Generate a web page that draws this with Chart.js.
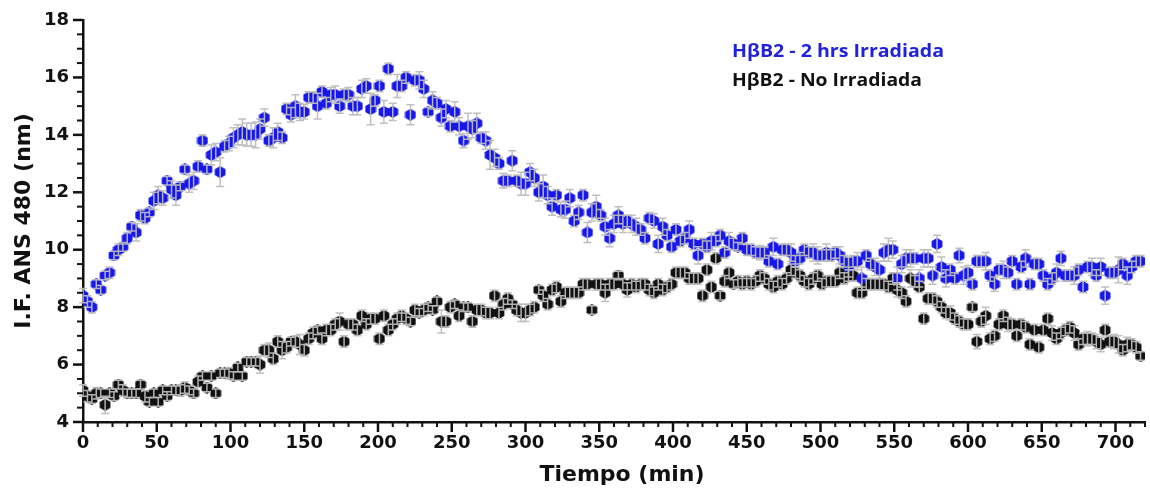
<!DOCTYPE html>
<html>
<head>
<meta charset="utf-8">
<script src="https://cdn.jsdelivr.net/npm/chart.js@4.4.1/dist/chart.umd.min.js"></script>
<style>
  body { margin: 0; background: #fff; }
  #wrap { width: 1150px; height: 493px; }
</style>
</head>
<body>
<div id="wrap"><canvas id="grafico"></canvas></div>
<script>
// tiempo de lectura (min)
const tiempo = [
  0,3,6,9,12,15,18,21,24,27,30,33,36,39,42,45,48,51,54,57,
  60,63,66,69,72,75,78,81,84,87,90,93,96,99,102,105,108,111,114,117,
  120,123,126,129,132,135,138,141,144,147,150,153,156,159,162,165,168,171,174,177,
  180,183,186,189,192,195,198,201,204,207,210,213,216,219,222,225,228,231,234,237,
  240,243,246,249,252,255,258,261,264,267,270,273,276,279,282,285,288,291,294,297,
  300,303,306,309,312,315,318,321,324,327,330,333,336,339,342,345,348,351,354,357,
  360,363,366,369,372,375,378,381,384,387,390,393,396,399,402,405,408,411,414,417,
  420,423,426,429,432,435,438,441,444,447,450,453,456,459,462,465,468,471,474,477,
  480,483,486,489,492,495,498,501,504,507,510,513,516,519,522,525,528,531,534,537,
  540,543,546,549,552,555,558,561,564,567,570,573,576,579,582,585,588,591,594,597,
  600,603,606,609,612,615,618,621,624,627,630,633,636,639,642,645,648,651,654,657,
  660,663,666,669,672,675,678,681,684,687,690,693,696,699,702,705,708,711,714,717
];

// HbB2 - 2 hrs Irradiada
const irradiada = [
  8.4,8.2,8.0,8.8,8.6,9.1,9.2,9.8,10.0,10.1,10.4,10.8,10.6,11.2,11.1,11.3,11.7,11.9,11.8,12.4,
  12.1,11.9,12.2,12.8,12.3,12.4,12.9,13.8,12.8,13.3,13.4,12.7,13.6,13.7,13.9,14.0,14.1,14.0,14.0,14.0,
  14.2,14.6,13.8,13.9,14.1,13.9,14.9,14.7,15.0,14.8,14.8,15.3,15.3,15.0,15.5,15.1,15.4,15.4,15.0,15.4,
  15.4,15.0,15.0,15.6,15.7,14.9,15.2,15.7,14.8,16.3,14.8,15.7,15.7,16.0,14.7,15.9,15.9,15.6,14.8,15.2,
  15.1,14.6,14.9,14.3,14.8,14.3,13.8,14.3,14.2,14.4,13.9,13.8,13.3,13.2,13.0,12.4,12.4,13.1,12.4,12.3,
  12.3,12.7,12.5,12.0,12.2,11.9,11.5,11.9,11.4,11.4,11.8,11.0,11.3,11.9,10.6,11.3,11.5,11.2,10.8,10.4,
  10.9,11.2,10.9,11.0,10.9,10.8,10.7,10.4,11.1,11.0,10.2,10.8,10.5,10.1,10.7,10.3,10.4,10.7,10.2,9.8,
  10.2,10.1,10.3,10.3,10.5,9.9,10.3,10.2,10.1,10.4,10.0,10.0,9.9,9.9,9.9,9.6,10.1,9.5,10.0,10.0,
  9.9,9.6,9.7,10.0,9.9,9.9,9.8,9.8,9.9,9.8,9.9,9.8,9.6,9.4,9.6,9.6,9.0,9.8,9.5,9.4,
  9.3,9.9,10.0,10.0,9.0,9.5,9.7,9.7,9.7,9.0,9.7,9.7,9.1,10.2,9.4,9.0,9.3,9.0,9.8,9.1,
  9.2,8.8,9.6,9.6,9.6,9.1,8.8,9.3,9.3,9.2,9.6,8.8,9.4,9.7,8.8,9.5,9.5,9.1,8.8,9.0,
  9.2,9.7,9.1,9.1,9.1,9.3,8.7,9.4,9.4,9.1,9.4,8.4,9.2,9.2,9.3,9.5,9.1,9.4,9.6,9.6
];
const irradiadaErr = [
  0.25,0.2,0.2,0.15,0.15,0.15,0.2,0.15,0.2,0.15,0.2,0.15,0.3,0.2,0.2,0.15,0.3,0.3,0.25,0.15,
  0.3,0.35,0.15,0.15,0.3,0.3,0.2,0.2,0.15,0.35,0.3,0.5,0.2,0.25,0.35,0.35,0.45,0.4,0.4,0.45,
  0.35,0.3,0.2,0.35,0.3,0.2,0.2,0.25,0.4,0.3,0.25,0.2,0.2,0.45,0.2,0.2,0.25,0.3,0.25,0.2,
  0.25,0.3,0.3,0.3,0.25,0.55,0.2,0.2,0.4,0.2,0.3,0.4,0.2,0.2,0.35,0.2,0.3,0.3,0.15,0.3,
  0.2,0.3,0.3,0.2,0.35,0.3,0.25,0.45,0.3,0.35,0.2,0.3,0.5,0.3,0.2,0.25,0.2,0.35,0.2,0.4,
  0.4,0.3,0.3,0.3,0.4,0.3,0.3,0.2,0.25,0.3,0.3,0.2,0.25,0.2,0.35,0.3,0.4,0.2,0.3,0.3,
  0.3,0.3,0.3,0.2,0.3,0.3,0.2,0.2,0.2,0.25,0.3,0.3,0.2,0.2,0.2,0.2,0.2,0.3,0.2,0.3,
  0.2,0.2,0.3,0.2,0.2,0.2,0.3,0.2,0.15,0.2,0.2,0.2,0.2,0.25,0.2,0.2,0.3,0.2,0.2,0.2,
  0.3,0.2,0.2,0.2,0.2,0.3,0.3,0.2,0.3,0.2,0.2,0.3,0.2,0.35,0.2,0.3,0.4,0.2,0.2,0.3,
  0.3,0.3,0.4,0.3,0.4,0.3,0.3,0.3,0.2,0.3,0.3,0.3,0.3,0.3,0.35,0.3,0.2,0.2,0.25,0.3,
  0.25,0.2,0.2,0.2,0.3,0.2,0.25,0.2,0.3,0.2,0.2,0.2,0.2,0.3,0.2,0.2,0.2,0.2,0.2,0.2,
  0.3,0.25,0.2,0.2,0.3,0.2,0.2,0.2,0.3,0.2,0.3,0.3,0.2,0.2,0.45,0.2,0.3,0.2,0.2,0.2
];

// HbB2 - No Irradiada
const noIrradiada = [
  5.1,4.9,4.8,5.0,5.0,4.6,5.0,4.9,5.3,5.1,5.0,5.0,5.0,5.3,4.9,4.7,5.0,4.7,5.1,4.9,
  5.1,5.1,5.1,5.2,5.1,5.0,5.4,5.6,5.2,5.6,5.0,5.7,5.7,5.7,5.6,5.9,5.6,6.1,6.1,6.1,
  6.0,6.5,6.5,6.2,6.8,6.5,6.6,6.8,6.8,6.7,6.5,6.9,7.1,7.2,6.9,7.2,7.2,7.4,7.5,6.8,
  7.4,7.4,7.2,7.7,7.4,7.6,7.6,6.9,7.7,7.2,7.4,7.6,7.7,7.6,7.5,7.9,7.8,7.9,8.0,7.9,
  8.2,7.5,7.5,8.0,8.1,7.7,8.0,8.0,7.5,7.9,7.9,7.8,7.8,8.4,7.8,8.1,8.3,8.1,7.9,7.8,
  7.8,7.9,8.0,8.6,8.4,8.1,8.6,8.7,8.2,8.5,8.5,8.5,8.5,8.8,8.8,7.9,8.8,8.8,8.5,8.8,
  8.8,9.1,8.8,8.6,8.8,8.7,8.8,8.8,8.6,8.5,8.8,8.6,8.7,8.8,9.2,9.2,9.2,9.0,9.0,9.0,
  8.4,9.3,8.7,9.7,8.4,8.9,9.2,8.8,8.9,8.8,8.9,8.8,8.9,9.1,9.0,8.8,8.7,8.9,8.8,9.0,
  9.3,9.2,9.1,8.9,8.8,9.0,9.1,8.8,8.9,8.9,8.9,9.2,9.0,9.1,9.1,8.5,8.5,8.8,8.8,8.8,
  8.8,8.8,8.7,9.0,8.6,8.5,8.2,9.0,8.9,8.7,7.6,8.3,8.3,8.2,8.0,7.8,7.8,7.6,7.5,7.4,
  7.4,8.0,6.8,7.5,7.7,6.9,7.0,7.4,7.7,7.4,7.4,7.0,7.4,7.3,6.7,7.2,6.6,7.2,7.6,7.1,
  6.9,7.1,7.2,7.3,7.1,6.7,6.9,6.9,6.9,6.8,6.7,7.2,6.8,6.8,6.7,6.5,6.7,6.7,6.6,6.3
];
const noIrradiadaErr = [
  0.2,0.2,0.15,0.2,0.15,0.3,0.15,0.15,0.15,0.2,0.15,0.15,0.15,0.15,0.2,0.15,0.15,0.15,0.15,0.15,
  0.15,0.15,0.2,0.2,0.15,0.15,0.2,0.15,0.15,0.15,0.15,0.15,0.15,0.2,0.15,0.15,0.15,0.15,0.15,0.15,
  0.3,0.2,0.25,0.2,0.2,0.3,0.2,0.15,0.2,0.35,0.2,0.2,0.2,0.15,0.2,0.2,0.2,0.2,0.3,0.2,
  0.2,0.2,0.2,0.2,0.2,0.2,0.2,0.2,0.2,0.2,0.2,0.2,0.2,0.2,0.15,0.2,0.15,0.2,0.15,0.15,
  0.15,0.4,0.2,0.2,0.15,0.2,0.15,0.15,0.2,0.2,0.2,0.2,0.2,0.2,0.2,0.2,0.2,0.15,0.2,0.3,
  0.3,0.2,0.2,0.15,0.2,0.2,0.2,0.2,0.2,0.2,0.2,0.2,0.2,0.2,0.2,0.15,0.2,0.2,0.3,0.2,
  0.2,0.15,0.2,0.25,0.2,0.2,0.2,0.2,0.2,0.2,0.2,0.2,0.2,0.2,0.2,0.2,0.2,0.2,0.2,0.2,
  0.2,0.2,0.2,0.2,0.15,0.2,0.2,0.15,0.2,0.2,0.2,0.2,0.2,0.2,0.2,0.2,0.2,0.2,0.2,0.2,
  0.2,0.2,0.2,0.2,0.2,0.2,0.2,0.2,0.2,0.2,0.2,0.2,0.2,0.2,0.2,0.2,0.2,0.2,0.2,0.2,
  0.2,0.2,0.2,0.2,0.25,0.2,0.2,0.3,0.2,0.2,0.2,0.2,0.2,0.2,0.2,0.2,0.25,0.2,0.2,0.2,
  0.2,0.15,0.25,0.2,0.3,0.2,0.2,0.2,0.2,0.25,0.2,0.2,0.2,0.2,0.2,0.2,0.2,0.2,0.2,0.25,
  0.2,0.2,0.2,0.2,0.25,0.2,0.2,0.25,0.2,0.25,0.25,0.2,0.2,0.25,0.3,0.2,0.25,0.2,0.2,0.15
];

const xLabels = [0, 50, 100, 150, 200, 250, 300, 350, 400, 450, 500, 550, 600, 650, 700];
const yLabels = [4, 6, 8, 10, 12, 14, 16, 18];

const azul = "#1616ee";
const negro = "#111111";

function hexagono(color) {
  var c = document.createElement("canvas");
  c.width = 12;
  c.height = 12;
  var g = c.getContext("2d");
  g.beginPath();
  for (var k = 0; k < 6; k++) {
    var a = Math.PI / 3 * k - Math.PI / 2;
    var px = 6 + 6.2 * Math.cos(a);
    var py = 6 + 6 * Math.sin(a);
    if (k === 0) g.moveTo(px, py); else g.lineTo(px, py);
  }
  g.closePath();
  g.fillStyle = color;
  g.fill();
  return c;
}

function puntos(valores) {
  return valores.map(function (v, i) { return { x: tiempo[i], y: v }; });
}

// barras de error grises encima de los marcadores
const barrasError = {
  id: "barrasError",
  afterDatasetsDraw: function (chart) {
    var ctx = chart.ctx;
    var ys = chart.scales.y;
    ctx.save();
    ctx.strokeStyle = "rgba(188,188,188,0.95)";
    ctx.lineWidth = 1.5;
    for (var i = chart.data.datasets.length - 1; i >= 0; i--) {
      var ds = chart.data.datasets[i];
      var meta = chart.getDatasetMeta(i);
      meta.data.forEach(function (pt, j) {
        var v = ds.data[j].y, e = ds.errores[j];
        var yt = ys.getPixelForValue(v + e);
        var yb = ys.getPixelForValue(v - e);
        ctx.beginPath();
        ctx.moveTo(pt.x, yt); ctx.lineTo(pt.x, yb);
        ctx.moveTo(pt.x - 4, yt); ctx.lineTo(pt.x + 4, yt);
        ctx.moveTo(pt.x - 4, yb); ctx.lineTo(pt.x + 4, yb);
        ctx.stroke();
      });
    }
    ctx.restore();
  }
};

// texto estirado a lo ancho, como en la figura original
function textoAncho(ctx, txt, x, y, ancho) {
  var w = ctx.measureText(txt).width;
  ctx.save();
  ctx.translate(x, y);
  ctx.scale(ancho / w, 1);
  ctx.fillText(txt, 0, 0);
  ctx.restore();
}

// marcas de los ejes, titulos y leyenda
const decoracion = {
  id: "decoracion",
  afterDraw: function (chart) {
    var ctx = chart.ctx;
    var area = chart.chartArea;
    var xs = chart.scales.x, ys = chart.scales.y;
    ctx.save();
    ctx.strokeStyle = "#111";
    xs.ticks.forEach(function (t) {
      var major = xLabels.indexOf(t.value) >= 0;
      var px = xs.getPixelForValue(t.value);
      ctx.lineWidth = major ? 2.5 : 2;
      ctx.beginPath();
      ctx.moveTo(px, area.bottom);
      ctx.lineTo(px, area.bottom + (major ? 10 : 5));
      ctx.stroke();
    });
    ys.ticks.forEach(function (t) {
      var major = yLabels.indexOf(t.value) >= 0;
      var py = ys.getPixelForValue(t.value);
      ctx.lineWidth = major ? 2.5 : 2;
      ctx.beginPath();
      ctx.moveTo(area.left, py);
      ctx.lineTo(area.left - (major ? 10 : 6), py);
      ctx.stroke();
    });

    ctx.fillStyle = "#111";
    ctx.font = "bold 22px 'DejaVu Sans'";
    ctx.textAlign = "center";
    ctx.textBaseline = "middle";
    ctx.fillText("Tiempo (min)", 622, 475);
    ctx.translate(24, (area.top + area.bottom) / 2);
    ctx.rotate(-Math.PI / 2);
    ctx.fillText("I.F. ANS 480 (nm)", 0, 0);
    ctx.restore();

    ctx.save();
    ctx.font = "bold 17px 'Open Sans'";
    ctx.textAlign = "left";
    ctx.textBaseline = "alphabetic";
    ctx.fillStyle = "#2222dd";
    textoAncho(ctx, "H\u03b2B2 - 2 hrs Irradiada", 732, 57, 212);
    ctx.fillStyle = "#111";
    textoAncho(ctx, "H\u03b2B2 - No Irradiada", 732, 86, 190);
    ctx.restore();
  }
};

const fuenteTicks = { family: "DejaVu Sans", size: 18, weight: "bold" };

new Chart(document.getElementById("grafico"), {
  type: "scatter",
  data: {
    datasets: [
      {
        label: "H\u03b2B2 - 2 hrs Irradiada",
        data: puntos(irradiada),
        errores: irradiadaErr,
        pointStyle: hexagono(azul),
        backgroundColor: azul,
        borderColor: azul
      },
      {
        label: "H\u03b2B2 - No Irradiada",
        data: puntos(noIrradiada),
        errores: noIrradiadaErr,
        pointStyle: hexagono(negro),
        backgroundColor: negro,
        borderColor: negro
      }
    ]
  },
  options: {
    responsive: true,
    maintainAspectRatio: false,
    animation: false,
    events: [],
    layout: { padding: { top: 20, right: 5, left: 0, bottom: 0 } },
    plugins: {
      legend: { display: false },
      tooltip: { enabled: false }
    },
    scales: {
      x: {
        type: "linear",
        min: 0,
        max: 720,
        afterFit: function (s) { s.height = 71; },
        border: { display: true, color: "#111", width: 2.5 },
        grid: { display: false, drawTicks: true, tickLength: 10 },
        ticks: {
          stepSize: 10,
          autoSkip: false,
          maxRotation: 0,
          padding: 1,
          color: "#111",
          font: fuenteTicks,
          callback: function (v) { return xLabels.indexOf(v) >= 0 ? String(v) : ""; }
        }
      },
      y: {
        min: 4,
        max: 18,
        afterFit: function (s) { s.width = 83; },
        border: { display: true, color: "#111", width: 2.5 },
        grid: { display: false, drawTicks: true, tickLength: 10 },
        ticks: {
          stepSize: 0.5,
          autoSkip: false,
          padding: 4,
          color: "#111",
          font: fuenteTicks,
          callback: function (v) { return yLabels.indexOf(v) >= 0 ? String(v) : ""; }
        }
      }
    }
  },
  plugins: [barrasError, decoracion]
});
</script>
</body>
</html>
